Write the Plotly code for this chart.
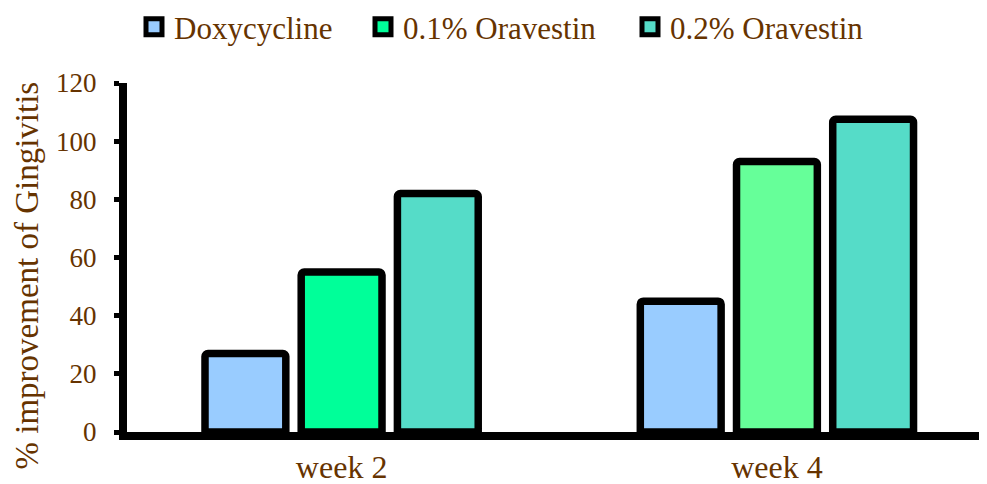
import plotly.graph_objects as go

categories = ["week 2", "week 4"]
series_names = ["Doxycycline", "0.1% Oravestin", "0.2% Oravestin"]
doxycycline = [27, 45]
oravestin_01 = [55, 93]
oravestin_02 = [82, 107.5]
y_ticks = [0, 20, 40, 60, 80, 100, 120]
y_title = "% improvement of Gingivitis"

colors = {
    "Doxycycline": ["#99CCFF", "#99CCFF"],
    "0.1% Oravestin": ["#00FF99", "#66FF99"],
    "0.2% Oravestin": ["#55DCC8", "#55DCC8"],
}

FONT = "Liberation Serif, Times New Roman, serif"
TXT = "#663300"
W, H = 979, 476
L, R, T, B = 119, 2, 75, 52

fig = go.Figure()
for name, vals in zip(series_names, [doxycycline, oravestin_01, oravestin_02]):
    fig.add_trace(go.Bar(
        x=categories, y=vals, name=name, showlegend=False,
        marker=dict(color=colors[name], line=dict(color="black", width=7.5), cornerradius=3),
    ))

legend_ids = ["legend", "legend2", "legend3"]
legend_x = [146, 375, 642]
for name, lid in zip(series_names, legend_ids):
    fig.add_trace(go.Scatter(
        x=[None], y=[None], mode="markers", name=name, legend=lid, showlegend=True,
        marker=dict(symbol="square", size=16, color=colors[name][0],
                    line=dict(color="black", width=5)),
    ))

legend_common = dict(orientation="h", xref="container", yref="container",
                     xanchor="left", yanchor="middle", y=1 - 19 / H,
                     font=dict(size=31, color=TXT, family=FONT),
                     bgcolor="rgba(0,0,0,0)", borderwidth=0)
layout_legends = {}
for lid, lx in zip(legend_ids, legend_x):
    layout_legends[lid] = dict(legend_common, x=(lx - 20) / W)

plot_w = W - L - R
plot_h = H - T - B

fig.update_layout(
    width=W, height=H,
    margin=dict(l=L, r=R, t=T, b=B),
    paper_bgcolor="white", plot_bgcolor="white",
    barmode="group", bargap=0.337, bargroupgap=0.16,
    font=dict(family=FONT, color=TXT, size=27),
    annotations=[dict(
        text=y_title, textangle=-90, showarrow=False,
        xref="paper", yref="paper",
        x=(18 - L) / plot_w, y=(H - B - 267.5) / plot_h,
        xanchor="center", yanchor="middle",
        font=dict(size=33, color=TXT, family=FONT),
    )],
    **layout_legends,
)
fig.update_xaxes(range=[-0.493, 1.478], showline=True, linecolor="black", linewidth=8,
                 showgrid=False, zeroline=False, ticks="", automargin=False,
                 tickfont=dict(size=32, color=TXT, family=FONT))
fig.update_yaxes(range=[0, 120], tickvals=y_ticks, showline=True, linecolor="black",
                 linewidth=8, showgrid=False, zeroline=False, ticks="outside",
                 ticklen=5, tickwidth=5, tickcolor="black", automargin=False,
                 ticklabelstandoff=12,
                 tickfont=dict(size=27, color=TXT, family=FONT))

fig.write_html("out.html")
